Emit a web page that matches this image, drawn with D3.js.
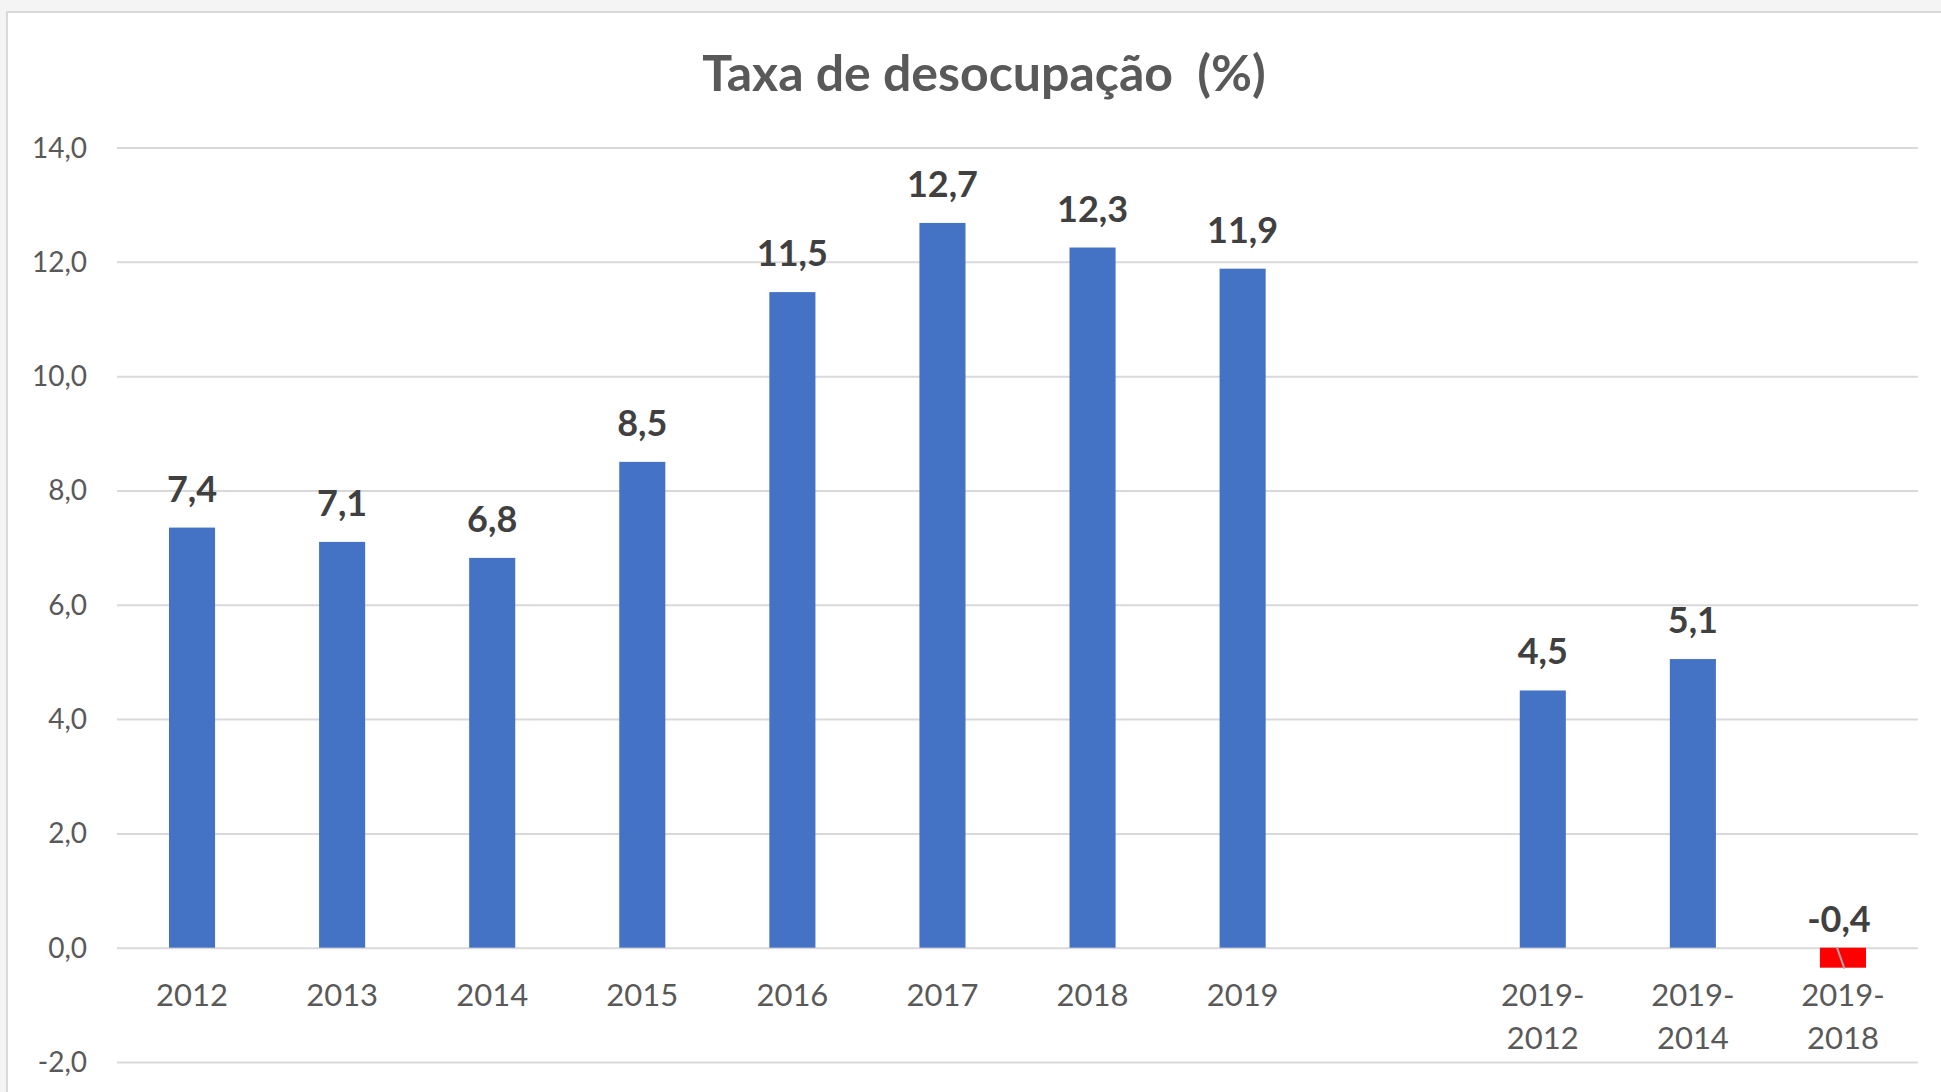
<!DOCTYPE html>
<html>
<head>
<meta charset="utf-8">
<script src="https://cdn.jsdelivr.net/npm/d3@7"></script>
<style>
  html, body { margin: 0; padding: 0; background: #f4f4f4; }
  svg { display: block; }
  text { font-family: Lato, "Open Sans", sans-serif; }
</style>
</head>
<body>
<svg id="chart" width="1941" height="1092"></svg>
<script>
// ---- data ----
const titleText = "Taxa de desocupação  (%)";
const categories = ["2012", "2013", "2014", "2015", "2016", "2017", "2018", "2019", " ", "2019-\n2012", "2019-\n2014", "2019-\n2018"];
const values = [7.35, 7.1, 6.82, 8.5, 11.47, 12.68, 12.25, 11.88, null, 4.5, 5.05, -0.35];
const yTicks = [-2, 0, 2, 4, 6, 8, 10, 12, 14];

// ---- setup ----
const svg = d3.select("#chart");
const W = 1941, H = 1092;
const plot = { left: 117, right: 1918, top: 147.5, bottom: 1062 };

const locale = d3.formatLocale({ decimal: ",", thousands: ".", grouping: [3], currency: ["R$", ""], minus: "-" });
const fmt1 = locale.format(".1f");
const roundHalfAway = v => Math.sign(v) * Math.round(Math.abs(v) * 10 + 1e-9) / 10;

// chart area
svg.append("rect")
  .attr("x", 7).attr("y", 12)
  .attr("width", W).attr("height", H)
  .attr("fill", "#ffffff")
  .attr("stroke", "#d9d9d9").attr("stroke-width", 2);

const x = d3.scaleBand().domain(categories).range([plot.left, plot.right]).padding(0);
const y = d3.scaleLinear().domain([-2, 14]).range([plot.bottom, plot.top]);
const barW = x.bandwidth() * 0.307;

// y axis with gridlines
const yAxis = d3.axisLeft(y)
  .tickValues(yTicks)
  .tickFormat(d => fmt1(d))
  .tickSize(-(plot.right - plot.left))
  .tickPadding(30);

const gy = svg.append("g")
  .attr("transform", `translate(${plot.left},0)`)
  .call(yAxis);
gy.select(".domain").remove();
gy.selectAll(".tick line").attr("stroke", "#d9d9d9").attr("stroke-width", 2);
gy.selectAll(".tick text")
  .attr("fill", "#595959")
  .style("font-size", "28px")
  .attr("dy", "0.34em");

// bars
const data = categories.map((c, i) => ({ c, v: values[i] })).filter(d => d.v !== null);

svg.append("g").selectAll("rect")
  .data(data)
  .join("rect")
  .attr("x", d => x(d.c) + x.bandwidth() / 2 - barW / 2)
  .attr("y", d => y(Math.max(d.v, 0)))
  .attr("width", barW)
  .attr("height", d => Math.abs(y(d.v) - y(0)))
  .attr("fill", d => d.v >= 0 ? "#4472C4" : "#FF0000");

// leader line for negative label
svg.append("g").selectAll("line")
  .data(data.filter(d => d.v < 0))
  .join("line")
  .attr("x1", d => x(d.c) + x.bandwidth() / 2 - 6)
  .attr("y1", y(0))
  .attr("x2", d => x(d.c) + x.bandwidth() / 2 + 1.5)
  .attr("y2", d => y(d.v) + 1)
  .attr("stroke", "#a6a6a6")
  .attr("stroke-width", 2);

// data labels
svg.append("g").selectAll("text")
  .data(data)
  .join("text")
  .attr("x", d => x(d.c) + x.bandwidth() / 2 + (d.v < 0 ? -4 : 0))
  .attr("y", d => d.v >= 0 ? y(d.v) - 26 : y(0) - 16)
  .attr("text-anchor", "middle")
  .attr("fill", "#404040")
  .style("font-size", "36px")
  .style("font-weight", "bold")
  .text(d => fmt1(roundHalfAway(d.v)));

// x axis labels
const xAxis = d3.axisBottom(x).tickSize(0).tickPadding(0);
const gx = svg.append("g")
  .attr("transform", `translate(0,${y(0)})`)
  .call(xAxis);
gx.select(".domain").remove();
gx.selectAll(".tick text")
  .attr("fill", "#595959")
  .style("font-size", "31px")
  .attr("y", 0).attr("dy", null)
  .each(function(d) {
    const t = d3.select(this);
    t.text(null);
    d.split("\n").forEach((line, i) => {
      t.append("tspan").attr("x", 0).attr("y", 58 + i * 43).text(line);
    });
  });

// title
svg.append("text")
  .attr("x", 984).attr("y", 91)
  .attr("text-anchor", "middle")
  .attr("fill", "#595959")
  .style("font-size", "50px")
  .style("font-weight", "bold")
  .style("white-space", "pre")
  .text(titleText);
</script>
</body>
</html>
